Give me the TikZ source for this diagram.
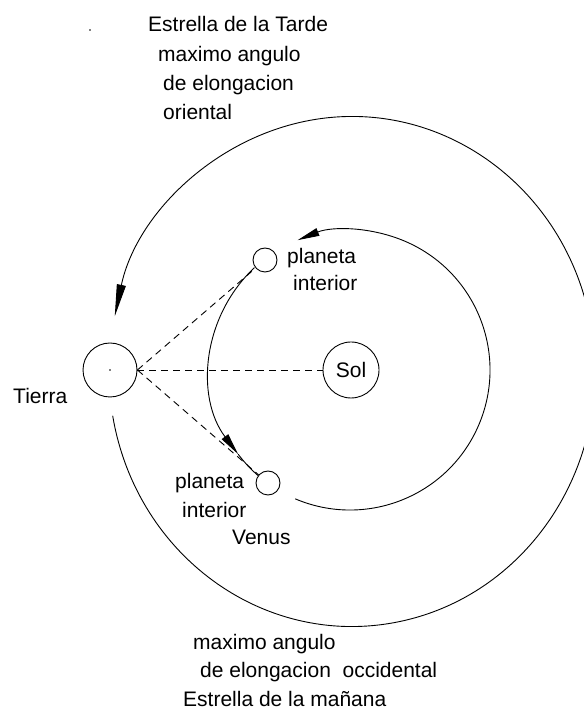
\documentclass[tikz,border=0pt]{standalone}
\usepackage{fontspec}
\setmainfont{Liberation Sans}
\usetikzlibrary{arrows.meta}
\begin{document}
\begin{tikzpicture}[x=1pt,y=1pt,
  font=\fontsize{21}{25}\selectfont,
  orbita/.style={line width=0.9pt},
  flecha/.style={-{Triangle[length=22pt,width=8pt]}},
  flechaT/.style={-{Triangle[length=32pt,width=9pt]}},
  cuerpo/.style={draw, circle, line width=0.9pt, inner sep=0pt},
  visual/.style={line width=0.9pt, dash pattern=on 7pt off 5pt},
  rotulo/.style={anchor=base west, inner sep=0pt}]
\clip (0,0) rectangle (584,710);
% cuerpos
\node[cuerpo, minimum size=54pt] (tierra) at (110,340) {};
\fill (tierra.center) circle (0.9);
\node[cuerpo, minimum size=56pt] (sol) at (351,340) {Sol};
\node[cuerpo, minimum size=24pt] (planetaOr) at (265,450) {};
\node[cuerpo, minimum size=24pt] (planetaOc) at (268,227) {};
% orbitas
\coordinate (centro) at (350,340);
\coordinate (centroT) at (352,338.5);
\draw[orbita,flecha] ([shift={(247:140)}]centro) arc[start angle=247, end angle=472, radius=140];
\draw[orbita,flecha] ([shift={(133:140)}]centro) arc[start angle=133, end angle=217, radius=140];
\draw[orbita] ([shift={(217:140)}]centro) arc[start angle=217, end angle=229, radius=140];
\draw[orbita,flechaT] ([shift={(190:243 and 255)}]centroT) arc[start angle=190, end angle=527.5, x radius=243, y radius=255];
% visuales desde la Tierra
\draw[visual] (tierra.east) -- (sol);
\draw[visual] (tierra.east) -- (planetaOr);
\draw[visual] (tierra.east) -- (planetaOc);
% textos
\fill (90,680) circle (0.9);
\node[rotulo] (tarde) at (148,678) {Estrella de la Tarde};
\node[rotulo] (maxOr) at (158,648) {maximo angulo};
\node[rotulo] (elonOr) at (163,619) {de elongacion};
\node[rotulo] (orient) at (163,590) {oriental};
\node[rotulo] (plaOr) at (287,446) {planeta};
\node[rotulo] (intOr) at (293,419) {interior};
\node[rotulo] (tierraTxt) at (13,306) {Tierra};
\node[rotulo] (plaOc) at (175,221) {planeta};
\node[rotulo] (intOc) at (182,192) {interior};
\node[rotulo] (venus) at (232,165) {Venus};
\node[rotulo] (maxOc) at (193,60) {maximo angulo};
\node[rotulo] (elonOc) at (200,32) {de elongacion~~occidental};
\node[rotulo] (manana) at (183,4) {Estrella de la mañana};
\end{tikzpicture}
\end{document}
